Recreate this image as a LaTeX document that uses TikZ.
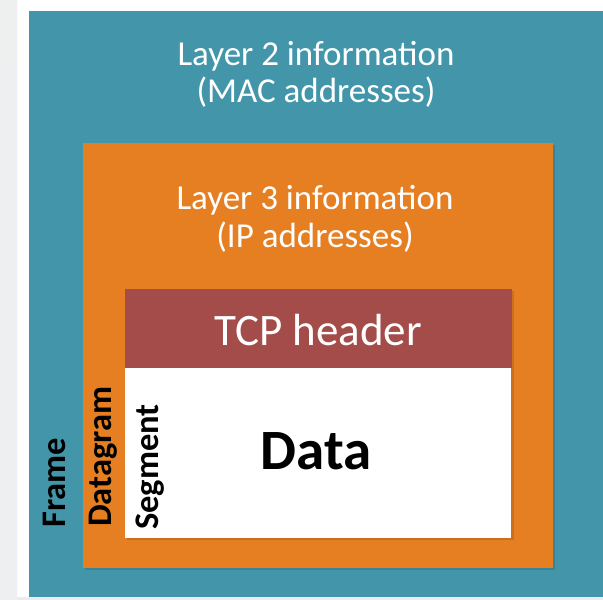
\documentclass[tikz,border=0pt]{standalone}
\usepackage{fontspec}
\setmainfont{Carlito}
\definecolor{teal2}{RGB}{67,150,170}
\definecolor{orng}{RGB}{230,127,34}
\definecolor{hdrred}{RGB}{164,76,74}
\definecolor{stripgray}{RGB}{226,228,229}
\tikzset{
  box/.style={inner sep=0pt, outer sep=0pt},
  shadowbox/.style={fill=black, opacity=0.12},
  lighttext/.style={text=white, font=\fontsize{35}{38}\selectfont, anchor=base, align=center},
  sidelabel/.style={text=black, font=\bfseries\fontsize{34.5}{38}\selectfont, rotate=90, anchor=base west, inner sep=0pt},
}
\begin{document}
\begin{tikzpicture}[x=1pt,y=-1pt]
\useasboundingbox (0,0) rectangle (603,600);
\fill[white] (0,0) rectangle (603,600);
% left gray strip
\shade[top color=stripgray!60, bottom color=stripgray!105!black] (0,0) rectangle (17,600);
\fill[stripgray!70] (17,597) rectangle (603,600);
% frame (teal)
\fill[teal2] (29,11) rectangle (603,597);
\coordinate (frameTL) at (29,11);
% datagram (orange) with shadow
\fill[shadowbox] (85,145) rectangle (555,570);
\fill[orng] (83,143) rectangle (553,568);
% segment: header + data with shadow
\fill[shadowbox] (127,291) rectangle (514,540);
\fill[hdrred] (125,289) rectangle (512,368);
\fill[white] (125,368) rectangle (511,538);
\node[box] (tcp) at (318.5,328.5) {};
\node[box] (data) at (318,453) {};
% texts
\node[lighttext] (l2a) at (316,65) {Layer 2 information};
\node[lighttext] (l2b) at (316,102) {(MAC addresses)};
\node[lighttext] (l3a) at (315,209) {Layer 3 information};
\node[lighttext] (l3b) at (315,247) {(IP addresses)};
\node[text=white, font=\fontsize{45}{48}\selectfont, anchor=base] (tcptext) at (318,345) {TCP header};
\node[text=black, font=\bfseries\fontsize{57}{60}\selectfont, anchor=base] (datatext) at (316,469) {Data};
\node[sidelabel] (frame) at (65,528) {Frame};
\node[sidelabel] (datagram) at (111,527) {Datagram};
\node[sidelabel] (segment) at (158,530) {Segment};
\end{tikzpicture}
\end{document}
